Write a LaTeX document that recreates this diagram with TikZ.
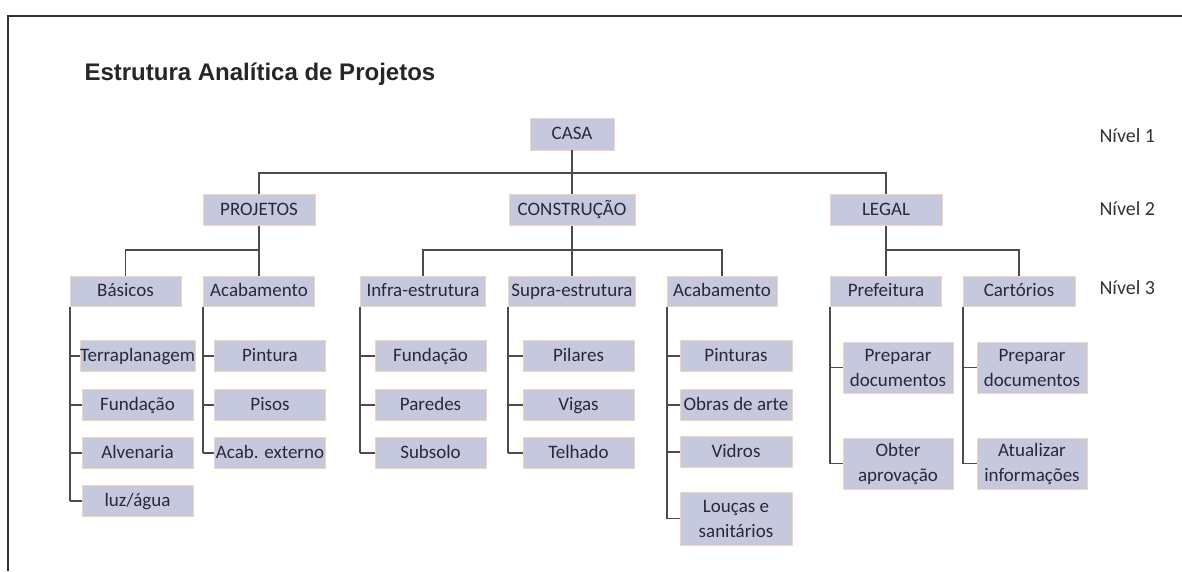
\documentclass[tikz,border=0pt]{standalone}
\usepackage{fontspec}
\setmainfont{Carlito}
\newfontfamily\titlefont{Liberation Sans}
\definecolor{boxfill}{RGB}{198,200,222}
\definecolor{boxedge}{RGB}{242,214,188}
\definecolor{boxtext}{RGB}{40,40,60}
\definecolor{linegray}{RGB}{75,75,75}

\begin{document}
\begin{tikzpicture}[x = 1pt, y = -1pt,
		wbsbox/.style = {draw = boxedge, line width = 0.8pt, fill = boxfill, text = boxtext, inner sep = 0pt, align = center, font = \fontsize{19}{25}\selectfont},
		oneline/.style = {text height = 13pt, text depth = 3pt},
		lvlbox/.style = {wbsbox, oneline, minimum width = #1, minimum height = 31pt},
		leafbox/.style = {wbsbox, minimum width = 111pt, minimum height = #1},
		leafbox/.default = 31pt,
		wbsline/.style = {draw = linegray, line width = 1.8pt},
		nivel/.style = {anchor = west, text = black!80, font = \fontsize{20}{22}\selectfont}]
	\useasboundingbox (0, 0) rectangle (1182, 571);
	\draw[line width = 1.5pt, black!80] (1182, 16) -- (8, 16) -- (8, 571);
	\node[anchor = base west, text = black!85, font = \titlefont\bfseries\fontsize{24}{26}\selectfont] (titulo) at (81, 80) {Estrutura Analítica de Projetos};

	\node[lvlbox = 84pt, minimum height = 32pt] (casa) at (572, 134) {CASA};
	\node[lvlbox = 112pt] (projetos) at (259, 210) {PROJETOS};
	\node[lvlbox = 126pt] (construcao) at (572, 210) {CONSTRUÇÃO};
	\node[lvlbox = 112pt] (legal) at (886, 210) {LEGAL};

	\node[nivel] (nivel1) at (1096, 136) {Nível 1};
	\node[nivel] (nivel2) at (1096, 209) {Nível 2};
	\node[nivel] (nivel3) at (1096, 288) {Nível 3};

	\node[lvlbox = 111pt, minimum height = 30pt] (basicos) at (125.5, 291.5) {Básicos};
	\node[lvlbox = 111pt, minimum height = 30pt] (acabproj) at (259, 291.5) {Acabamento};
	\node[lvlbox = 125pt, minimum height = 30pt] (infra) at (423, 291.5) {Infra-estrutura};
	\node[lvlbox = 127pt, minimum height = 30pt] (supra) at (572, 291.5) {Supra-estrutura};
	\node[lvlbox = 110pt, minimum height = 30pt] (acabcons) at (722, 291.5) {Acabamento};
	\node[lvlbox = 111pt, minimum height = 30pt] (prefeitura) at (886, 291.5) {Prefeitura};
	\node[lvlbox = 112pt, minimum height = 30pt] (cartorios) at (1019, 291.5) {Cartórios};

	\coordinate (bus1) at (0, 173);
	\coordinate (bus2) at (0, 250);
	\draw[wbsline] (casa.south) -- (construcao.north);
	\draw[wbsline] (projetos.north) |- (legal.north |- bus1) -- (legal.north);
	\draw[wbsline] (projetos.south) -- (acabproj.north);
	\draw[wbsline] (basicos.north) |- (acabproj.north |- bus2);
	\draw[wbsline] (construcao.south) -- (supra.north);
	\draw[wbsline] (infra.north) |- (acabcons.north |- bus2) -- (acabcons.north);
	\draw[wbsline] (legal.south) -- (prefeitura.north);
	\draw[wbsline] (prefeitura.north |- bus2) -- (cartorios.north |- bus2) -- (cartorios.north);

	\foreach \name/\ypos/\texto in {terra/356/Terraplanagem, fundb/405/Fundação, alv/453/Alvenaria, luz/501/{luz/água}}
	{
		\node[leafbox, oneline] (\name) at (137.5, \ypos) {\texto};
		\draw[wbsline] (basicos.south west |- \name.west) -- (\name.west);
	}
	\draw[wbsline] (basicos.south west) -- (basicos.south west |- luz.west);

	\foreach \name/\ypos/\texto in {pint/356/Pintura, pisos/405/Pisos, acabext/453/Acab. externo}
	{
		\node[leafbox, oneline] (\name) at (270, \ypos) {\texto};
		\draw[wbsline] (acabproj.south west |- \name.west) -- (\name.west);
	}
	\draw[wbsline] (acabproj.south west) -- (acabproj.south west |- acabext.west);

	\foreach \name/\ypos/\texto in {fundi/356/Fundação, paredes/405/Paredes, subsolo/453/Subsolo}
	{
		\node[leafbox, oneline] (\name) at (430.5, \ypos) {\texto};
		\draw[wbsline] (infra.south west |- \name.west) -- (\name.west);
	}
	\draw[wbsline] (infra.south west) -- (infra.south west |- subsolo.west);

	\foreach \name/\ypos/\texto in {pilares/356/Pilares, vigas/405/Vigas, telhado/453/Telhado}
	{
		\node[leafbox, oneline] (\name) at (578.5, \ypos) {\texto};
		\draw[wbsline] (supra.south west |- \name.west) -- (\name.west);
	}
	\draw[wbsline] (supra.south west) -- (supra.south west |- telhado.west);

	\foreach \name/\ypos/\texto in {pinturas/356/Pinturas, obras/405/Obras de arte, vidros/452/Vidros}
	{
		\node[leafbox, oneline, minimum width = 112pt] (\name) at (736, \ypos) {\texto};
		\draw[wbsline] (acabcons.south west |- \name.west) -- (\name.west);
	}
	\node[leafbox = 53pt, minimum width = 112pt] (loucas) at (736, 518.5) {Louças e\\sanitários};
	\draw[wbsline] (acabcons.south west) |- (loucas.west);

	\foreach \name/\ypos/\texto in {prepp/367.5/{Preparar\\documentos}, obter/463.5/{Obter\\aprovação}}
	{
		\node[leafbox = 51pt, minimum width = 110pt] (\name) at (898, \ypos) {\texto};
		\draw[wbsline] (prefeitura.south west |- \name.west) -- (\name.west);
	}
	\draw[wbsline] (prefeitura.south west) -- (prefeitura.south west |- obter.west);

	\foreach \name/\ypos/\texto in {prepc/367.5/{Preparar\\documentos}, atual/463.5/{Atualizar\\informações}}
	{
		\node[leafbox = 51pt, minimum width = 110pt] (\name) at (1032, \ypos) {\texto};
		\draw[wbsline] (cartorios.south west |- \name.west) -- (\name.west);
	}
	\draw[wbsline] (cartorios.south west) -- (cartorios.south west |- atual.west);
\end{tikzpicture}
\end{document}
